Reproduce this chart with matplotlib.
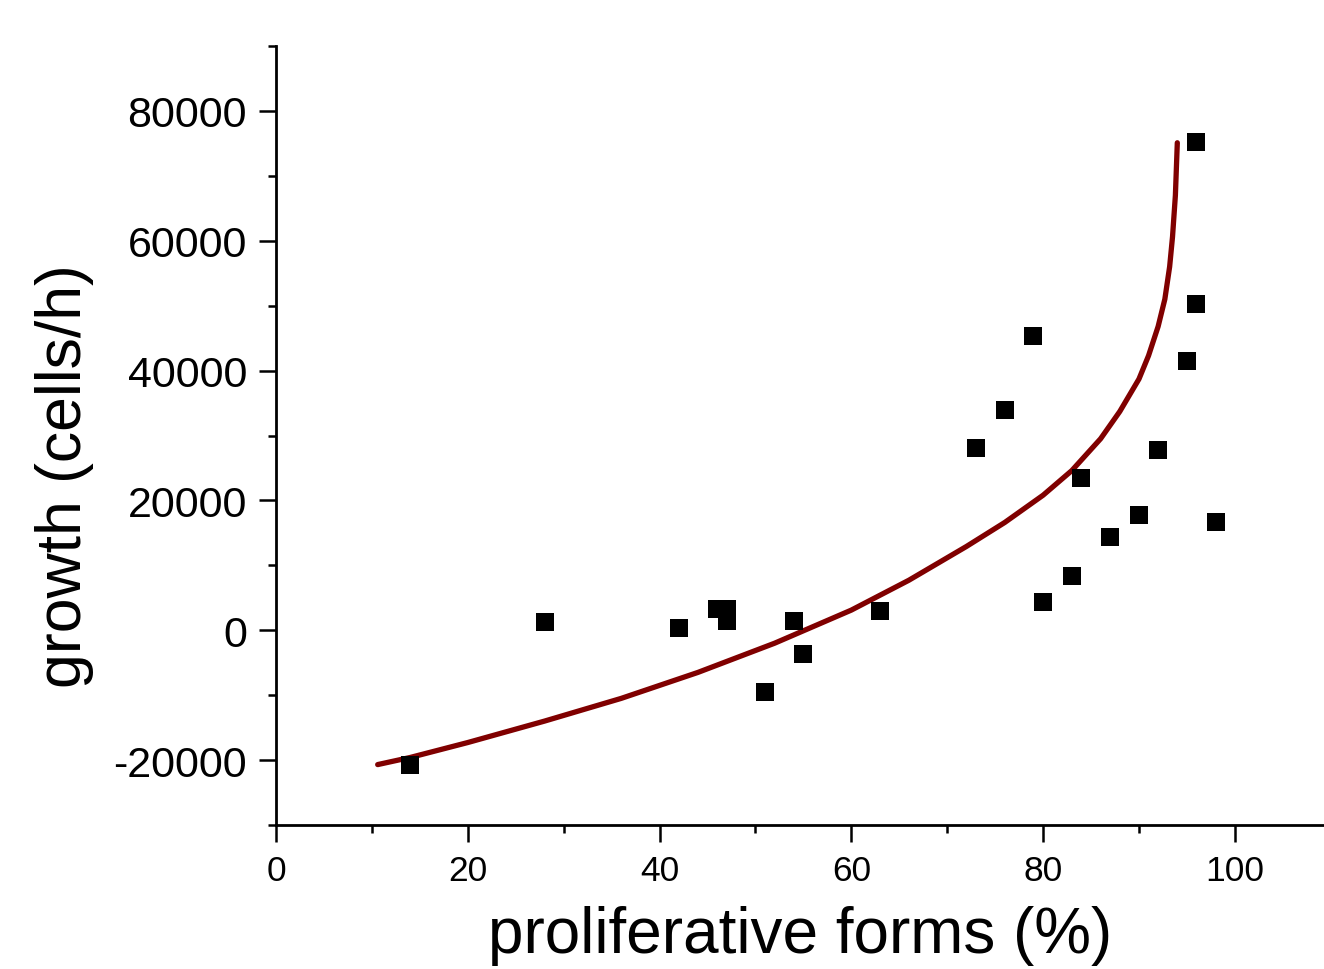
import matplotlib
matplotlib.use("Agg")
import matplotlib.pyplot as plt
from matplotlib.ticker import MultipleLocator

# measured points
prolif = [14, 28, 42, 46, 47, 47, 51, 54, 55, 63, 73, 76, 79, 80, 83, 84,
          87, 90, 92, 95, 96, 96, 98]
growth = [-20700, 1300, 300, 3300, 3300, 1400, -9500, 1400, -3600, 3000,
          28000, 34000, 45400, 4400, 8400, 23500, 14300, 17800, 27700,
          41500, 50200, 75200, 16600]

# fitted curve
fit_x = [10.6, 14, 20, 28, 36, 44, 52, 60, 66, 72, 76, 80, 83, 86, 88, 90,
         91, 92, 92.7, 93.2, 93.5, 93.8, 94.0]
fit_y = [-20700, -19600, -17300, -14000, -10500, -6500, -2000, 3100, 7700,
         12900, 16600, 20800, 24600, 29500, 33700, 38700, 42300, 46800,
         51000, 56000, 60600, 67000, 75100]

plt.rcParams['font.family'] = ['Liberation Sans', 'DejaVu Sans']
plt.rcParams['axes.unicode_minus'] = False

fig = plt.figure(figsize=(13.24, 9.70), dpi=100)
ax = fig.add_axes([0.2085, 0.1485, 0.7915, 0.803])

ax.plot(fit_x, fit_y, color='#800000', lw=3.8, solid_capstyle='round',
        solid_joinstyle='round', zorder=2)
ax.plot(prolif, growth, 's', color='black', ms=12.5, mew=0, zorder=3)

ax.set_xlim(0, 109.3)
ax.set_ylim(-30000, 90000)
ax.xaxis.set_major_locator(MultipleLocator(20))
ax.xaxis.set_minor_locator(MultipleLocator(10))
ax.yaxis.set_major_locator(MultipleLocator(20000))
ax.yaxis.set_minor_locator(MultipleLocator(10000))

for s in ['top', 'right']:
    ax.spines[s].set_visible(False)
for s in ['left', 'bottom']:
    ax.spines[s].set_linewidth(2)

ax.tick_params(which='major', direction='out', length=12, width=1.8, pad=9)
ax.tick_params(which='minor', direction='out', length=6, width=1.8)
ax.tick_params(axis='x', which='major', labelsize=25.5)
ax.tick_params(axis='y', which='major', labelsize=31)

ax.set_xlabel('proliferative forms (%)', fontsize=46, labelpad=13)
ax.set_ylabel('growth (cells/h)', fontsize=45, labelpad=14)
ax.yaxis.label.set_y(0.449)

fig.savefig('out.png', dpi=100)
